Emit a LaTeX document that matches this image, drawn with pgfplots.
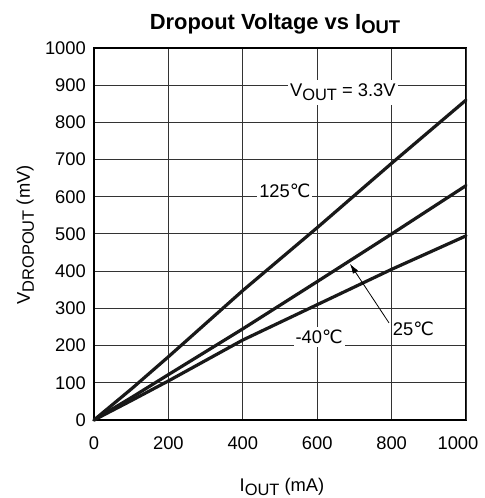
\documentclass[border=0pt]{standalone}
\usepackage{fontspec}
\setmainfont{Liberation Sans}
\newfontfamily\dejavu{DejaVu Sans}
\usepackage{pgfplots}
\pgfplotsset{compat=1.18}
\usetikzlibrary{arrows.meta}
\newcommand{\degC}{{\dejavu ℃}}
\newcommand{\lbl}{\fontsize{18.4}{21}\selectfont}
\newcommand{\sub}[1]{\raisebox{-4bp}{\fontsize{16.5}{19}\selectfont #1}}
\begin{document}
\begin{tikzpicture}
\useasboundingbox (-94bp,-78bp) rectangle (391bp,420bp);
\begin{axis}[
  at={(0,0)}, anchor=south west,
  scale only axis, width=372bp, height=372bp,
  xmin=0, xmax=1000, ymin=0, ymax=1000,
  xtick={0,200,...,800}, ytick={0,100,...,1000},
  extra x ticks={1000},
  extra x tick style={xticklabel style={xshift=-8bp}},
  grid=major, grid style={line width=1bp, black!80},
  axis line style={line width=1.6bp, black},
  major tick length=0pt,
  tick label style={font=\lbl},
  /pgf/number format/assume math mode=true,
  /pgf/number format/1000 sep={},
  xticklabel style={anchor=north, inner sep=0pt, yshift=-17bp},
  yticklabel style={anchor=east, inner sep=0pt, xshift=-8bp},
  clip=false,
]
\addplot[black!90, line width=3.2bp, line join=round, line cap=round] coordinates {
  (0,0) (100,83) (200,170) (400,348) (600,517) (800,690) (1000,860)};
\addplot[black!90, line width=3.2bp, line join=round, line cap=round] coordinates {
  (0,0) (100,60) (200,122) (400,245) (600,372) (800,500) (1000,630)};
\addplot[black!90, line width=3.2bp, line join=round, line cap=round] coordinates {
  (0,0) (100,52) (200,105) (400,215) (600,310) (800,405) (1000,495)};
\node[fill=white, inner xsep=2bp, inner ysep=2bp, font=\lbl] at (axis cs:513,616) {125\degC};
\node[fill=white, inner xsep=2bp, inner ysep=3bp, font=\lbl] at (axis cs:605,223) {-40\degC};
\node[anchor=west, inner sep=0pt, font=\lbl] at (axis cs:803,245) {25\degC};
\node[fill=white, inner xsep=2bp, inner ysep=4bp, font=\lbl] at (axis cs:669,881) {V\sub{OUT} = 3.3V};
\draw[line width=0.8bp, -{Latex[length=10bp,width=6bp]}] (axis cs:793,261) -- (axis cs:688,420);
\end{axis}
\node[anchor=base, font=\fontsize{22}{26}\bfseries] at (181bp,390bp) {Dropout Voltage vs I\raisebox{-4bp}{\fontsize{18.5}{22}\selectfont OUT}};
\node[anchor=base, font=\lbl] at (188bp,-71bp) {I\sub{OUT} (mA)};
\node[rotate=90, anchor=base, font=\lbl] at (-64bp,185bp) {V\sub{DROPOUT} (mV)};
\end{tikzpicture}
\end{document}
